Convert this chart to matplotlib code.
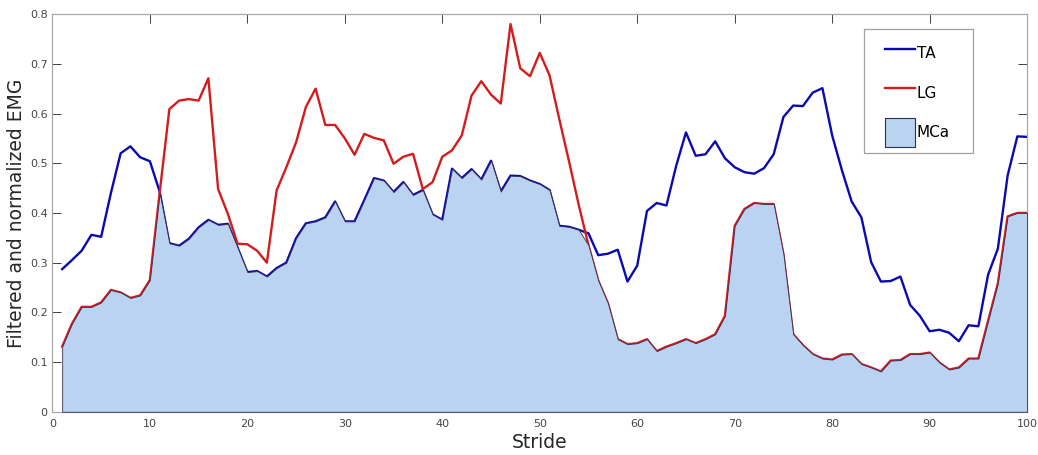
import matplotlib
matplotlib.use("Agg")
import matplotlib.pyplot as plt
import numpy as np
from matplotlib.patches import Patch, Rectangle
from matplotlib.lines import Line2D

stride = np.arange(1, 101)

ta = [0.287, 0.305, 0.324, 0.356, 0.352, 0.440, 0.520, 0.534, 0.512, 0.504,
      0.443, 0.339, 0.334, 0.348, 0.371, 0.386, 0.376, 0.378, 0.330, 0.281,
      0.283, 0.272, 0.289, 0.300, 0.349, 0.379, 0.383, 0.391, 0.423, 0.383,
      0.383, 0.426, 0.470, 0.465, 0.442, 0.462, 0.436, 0.446, 0.397, 0.386,
      0.489, 0.470, 0.488, 0.467, 0.505, 0.443, 0.475, 0.474, 0.465, 0.458,
      0.446, 0.374, 0.372, 0.366, 0.359, 0.315, 0.318, 0.326, 0.262, 0.294,
      0.404, 0.420, 0.415, 0.495, 0.562, 0.515, 0.518, 0.544, 0.510, 0.492,
      0.482, 0.479, 0.490, 0.518, 0.593, 0.616, 0.615, 0.642, 0.651, 0.556,
      0.486, 0.423, 0.391, 0.301, 0.262, 0.263, 0.272, 0.215, 0.193, 0.162,
      0.165, 0.159, 0.142, 0.174, 0.172, 0.276, 0.328, 0.475, 0.554, 0.553]

lg = [0.131, 0.177, 0.211, 0.211, 0.220, 0.245, 0.240, 0.229, 0.234, 0.265,
      0.440, 0.609, 0.626, 0.629, 0.626, 0.671, 0.448, 0.398, 0.338, 0.337,
      0.324, 0.300, 0.445, 0.492, 0.542, 0.613, 0.650, 0.577, 0.577, 0.550,
      0.517, 0.559, 0.551, 0.546, 0.499, 0.513, 0.519, 0.448, 0.462, 0.513,
      0.526, 0.556, 0.636, 0.665, 0.638, 0.620, 0.780, 0.691, 0.675, 0.722,
      0.677, 0.589, 0.504, 0.416, 0.335, 0.264, 0.218, 0.146, 0.136, 0.138,
      0.146, 0.122, 0.131, 0.138, 0.146, 0.138, 0.146, 0.156, 0.193, 0.374,
      0.408, 0.420, 0.418, 0.418, 0.317, 0.156, 0.134, 0.116, 0.107, 0.105,
      0.115, 0.116, 0.096, 0.089, 0.081, 0.103, 0.104, 0.116, 0.116, 0.119,
      0.099, 0.085, 0.089, 0.107, 0.107, 0.183, 0.258, 0.393, 0.400, 0.400]

ta_color = "#0a0ab0"
lg_color = "#d41c1c"
fill_color = "#b9d3f0"

fig = plt.figure(figsize=(10.38, 4.55), dpi=100)
ax = fig.add_axes([0.0505, 0.095, 0.939, 0.874])

mca = np.minimum(ta, lg)
ax.plot(stride, ta, color=ta_color, lw=1.7, zorder=2)
ax.plot(stride, lg, color=lg_color, lw=1.7, zorder=2)
ax.fill_between(stride, 0, mca, facecolor=fill_color, edgecolor="#3a2a50",
                lw=0.6, zorder=3)

ax.set_xlim(0, 100)
ax.set_ylim(0, 0.8)
ax.set_xticks(np.arange(0, 101, 10))
ax.set_yticks(np.arange(0, 0.81, 0.1))
ax.set_yticklabels(["0", "0.1", "0.2", "0.3", "0.4", "0.5", "0.6", "0.7", "0.8"])
ax.tick_params(direction="in", top=True, right=True, length=6.5, width=0.7,
               color="#404040", labelsize=8, labelcolor="#454545")
ax.tick_params(axis="x", pad=5)
for s in ax.spines.values():
    s.set_color("#a8a8a8")
    s.set_linewidth(0.9)

ax.set_xlabel("Stride", fontsize=13.5, color="#262626", labelpad=3)
ax.set_ylabel("Filtered and normalized EMG", fontsize=13.5, color="#262626", labelpad=3)

# legend frame drawn separately (MATLAB-style wide side padding)
ax.add_patch(Rectangle((0.833, 0.65), 0.111, 0.312, transform=ax.transAxes,
                       facecolor="white", edgecolor="#a0a0a0", lw=0.9, zorder=4))
handles = [Line2D([], [], color=ta_color, lw=1.7),
           Line2D([], [], color=lg_color, lw=1.7),
           Patch(facecolor=fill_color, edgecolor="#2a3050", lw=0.8)]
leg = ax.legend(handles, ["TA", "LG", "MCa"], loc="upper left",
                bbox_to_anchor=(0.854, 0.937), fontsize=11, frameon=False,
                labelspacing=0.72, handlelength=2.0, handleheight=2.5,
                handletextpad=0.1, borderpad=0, borderaxespad=0)
leg.set_zorder(5)

fig.savefig("out.png", dpi=100)
